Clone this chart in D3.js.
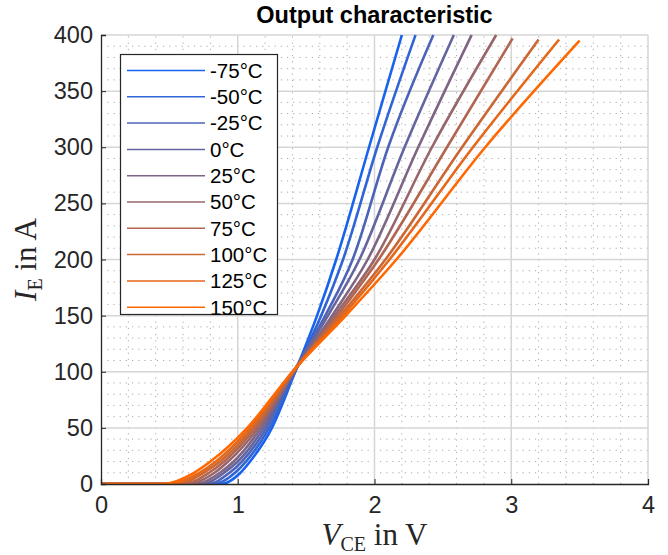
<!DOCTYPE html>
<html>
<head>
<meta charset="utf-8">
<script src="https://cdn.jsdelivr.net/npm/d3@7"></script>
<style>
  body { margin: 0; background: #fff; }
  text { font-family: "Liberation Sans", Arial, sans-serif; }
</style>
</head>
<body>
<svg id="chart" width="668" height="555"></svg>
<script>
// temperatures (legend)
var temps = ["-75°C", "-50°C", "-25°C", "0°C", "25°C", "50°C", "75°C", "100°C", "125°C", "150°C"];

// current levels (A) at which V_CE was read, last one is the end point of each curve
var currentLevels = [0, 0, 10, 20, 50, 100, 150, 200, 300];
var endCurrent = [400, 400, 400, 400, 400, 400, 397, 396, 396, 395];

// V_CE (V) for each temperature, same order as currentLevels + end
var vT75m = [0, 0.88, 1.02, 1.09, 1.25, 1.42, 1.58, 1.72, 1.96, 2.20];
var vT50m = [0, 0.83, 0.98, 1.06, 1.23, 1.42, 1.61, 1.77, 2.02, 2.30];
var vT25m = [0, 0.78, 0.94, 1.03, 1.21, 1.41, 1.64, 1.84, 2.10, 2.43];
var vT0   = [0, 0.74, 0.90, 1.00, 1.19, 1.41, 1.66, 1.89, 2.22, 2.58];
var vT25  = [0, 0.69, 0.87, 0.97, 1.17, 1.41, 1.69, 1.95, 2.32, 2.71];
var vT50  = [0, 0.64, 0.83, 0.93, 1.15, 1.41, 1.71, 2.00, 2.42, 2.89];
var vT75  = [0, 0.60, 0.79, 0.90, 1.13, 1.41, 1.73, 2.03, 2.53, 3.01];
var vT100 = [0, 0.55, 0.75, 0.87, 1.11, 1.40, 1.75, 2.08, 2.64, 3.20];
var vT125 = [0, 0.50, 0.72, 0.84, 1.09, 1.40, 1.77, 2.11, 2.72, 3.35];
var vT150 = [0, 0.45, 0.68, 0.80, 1.07, 1.40, 1.79, 2.16, 2.81, 3.50];

var vSeries = [vT75m, vT50m, vT25m, vT0, vT25, vT50, vT75, vT100, vT125, vT150];

var xTicks = [0, 1, 2, 3, 4];
var yTicks = [0, 50, 100, 150, 200, 250, 300, 350, 400];

var width = 668, height = 555;
var margin = { top: 35, right: 20, bottom: 71, left: 101 };

var svg = d3.select("#chart");

var x = d3.scaleLinear().domain([0, 4]).range([margin.left, width - margin.right]);
var y = d3.scaleLinear().domain([0, 400]).range([height - margin.bottom, margin.top]);

var color = d3.interpolateRgb("#1763ee", "#ff6800");

// minor grid
svg.append("g")
    .selectAll("line")
    .data(d3.range(0, 4.001, 0.2).filter(v => Math.abs(v - Math.round(v)) > 1e-6))
    .enter().append("line")
    .attr("x1", d => x(d)).attr("x2", d => x(d))
    .attr("y1", y(0)).attr("y2", y(400))
    .attr("stroke", "#aaa").attr("stroke-dasharray", "1.2,5");

svg.append("g")
    .selectAll("line")
    .data(d3.range(0, 401, 10).filter(v => v % 50 !== 0))
    .enter().append("line")
    .attr("y1", d => y(d)).attr("y2", d => y(d))
    .attr("x1", x(0)).attr("x2", x(4))
    .attr("stroke", "#aaa").attr("stroke-dasharray", "1.2,5");

// major grid
svg.append("g")
    .selectAll("line")
    .data(xTicks.slice(1))
    .enter().append("line")
    .attr("x1", d => x(d)).attr("x2", d => x(d))
    .attr("y1", y(0)).attr("y2", y(400))
    .attr("stroke", "#d6d6d6").attr("stroke-width", 1.5);

svg.append("g")
    .selectAll("line")
    .data(yTicks.slice(1))
    .enter().append("line")
    .attr("y1", d => y(d)).attr("y2", d => y(d))
    .attr("x1", x(0)).attr("x2", x(4))
    .attr("stroke", "#d6d6d6").attr("stroke-width", 1.5);

// curves
var line = d3.line()
    .x(d => x(d[0]))
    .y(d => y(d[1]))
    .curve(d3.curveMonotoneX);

svg.append("clipPath").attr("id", "clip")
    .append("rect")
    .attr("x", x(0)).attr("y", y(400) - 1)
    .attr("width", x(4) - x(0)).attr("height", y(0) - y(400) + 1);

svg.append("g")
    .attr("clip-path", "url(#clip)")
    .selectAll("path")
    .data(vSeries)
    .enter().append("path")
    .attr("fill", "none")
    .attr("stroke", (d, i) => color(i / 9))
    .attr("stroke-width", 2.6)
    .attr("d", (d, i) => line(d.map((v, k) => [v, k < currentLevels.length ? currentLevels[k] : endCurrent[i]])));

// axes
var xAxis = d3.axisBottom(x).tickValues(xTicks).tickSize(-5).tickPadding(12).tickFormat(d3.format("d"));
var yAxis = d3.axisLeft(y).tickValues(yTicks).tickSize(-5).tickPadding(8);

var gx = svg.append("g")
    .attr("transform", `translate(0,${y(0)})`)
    .call(xAxis);
var gy = svg.append("g")
    .attr("transform", `translate(${x(0)},0)`)
    .call(yAxis);

[gx, gy].forEach(g => {
    g.select(".domain").attr("stroke", "#262626").attr("stroke-width", 1.3);
    g.selectAll(".tick line").attr("stroke", "#262626");
    g.selectAll(".tick text")
        .attr("fill", "#262626")
        .style("font-family", "'Liberation Sans', Arial, sans-serif")
        .style("font-size", "23.5px");
});
gx.selectAll(".tick text").attr("dy", "0.72em");

// title
svg.append("text")
    .attr("x", (x(0) + x(4)) / 2)
    .attr("y", 23)
    .attr("text-anchor", "middle")
    .style("font-size", "23.5px")
    .style("font-weight", "bold")
    .attr("fill", "#000")
    .text("Output characteristic");

// axis labels
var serif = "'Liberation Serif', 'Times New Roman', serif";
var xl = svg.append("text")
    .attr("x", (x(0) + x(4)) / 2)
    .attr("y", 545)
    .attr("text-anchor", "middle")
    .style("font-family", serif)
    .style("font-size", "31px")
    .attr("fill", "#262626");
xl.append("tspan").style("font-style", "italic").style("font-family", serif).text("V");
xl.append("tspan").style("font-size", "20px").style("font-family", serif).attr("dy", 6).text("CE");
xl.append("tspan").style("font-family", serif).attr("dy", -6).text(" in V");

var yl = svg.append("text")
    .attr("transform", `translate(36,${(y(0) + y(400)) / 2}) rotate(-90)`)
    .attr("text-anchor", "middle")
    .style("font-family", serif)
    .style("font-size", "31px")
    .attr("fill", "#262626");
yl.append("tspan").style("font-style", "italic").style("font-family", serif).text("I");
yl.append("tspan").style("font-size", "20px").style("font-family", serif).attr("dy", 6).text("E");
yl.append("tspan").style("font-family", serif).attr("dy", -6).text(" in A");

// legend
var legend = svg.append("g");
legend.append("rect")
    .attr("x", 120.5).attr("y", 54.5)
    .attr("width", 157).attr("height", 260)
    .attr("fill", "#fff")
    .attr("stroke", "#262626")
    .attr("stroke-width", 1.2);

var rows = legend.selectAll(".row")
    .data(temps)
    .enter().append("g")
    .attr("transform", (d, i) => `translate(0,${70.5 + i * 26.3})`);

rows.append("line")
    .attr("x1", 127).attr("x2", 205)
    .attr("stroke", (d, i) => color(i / 9))
    .attr("stroke-width", 1.5);

rows.append("text")
    .attr("x", 210)
    .attr("dy", "0.36em")
    .style("font-size", "20.5px")
    .attr("fill", "#000")
    .text(d => d);
</script>
</body>
</html>
